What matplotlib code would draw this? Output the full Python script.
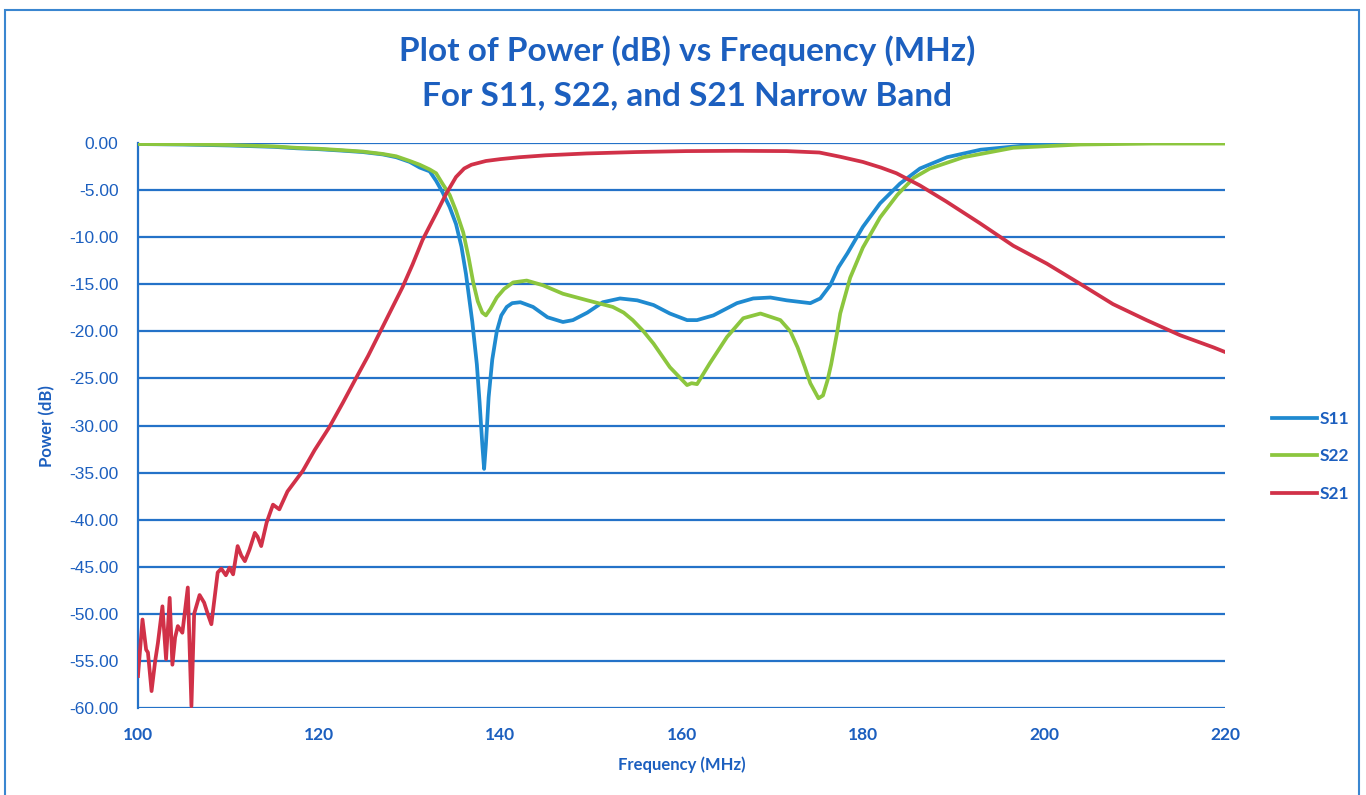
import matplotlib
matplotlib.use("Agg")
import matplotlib.pyplot as plt
from matplotlib.patches import Rectangle

# S11 readings (MHz, dB)
s11_freq = [100, 105, 110, 115, 117.5, 120, 122.5, 124.8, 127, 128.5, 130, 131.1,
            132.2, 132.9, 133.6, 134.4, 135.1, 135.7, 136.2, 136.9, 137.4, 137.7,
            138.0, 138.2, 138.4, 138.7, 139.1, 139.6, 140.1, 140.7, 141.3, 142.2,
            143.6, 145.2, 146.9, 148.0, 149.6, 151.3, 153.2, 155.1, 156.9, 158.7,
            160.6, 161.7, 163.5, 166.1, 167.9, 169.8, 171.6, 174.2, 175.3, 176.4,
            177.3, 178.3, 180.0, 181.9, 184.1, 186.3, 189.3, 193.0, 198.5, 204.0,
            211.4, 220.0]
s11_db = [-0.1, -0.15, -0.25, -0.4, -0.55, -0.65, -0.8, -0.95, -1.2, -1.5, -2.0, -2.6,
          -3.0, -4.0, -5.2, -6.8, -8.6, -11.0, -13.9, -19.0, -23.5, -27.5,
          -32.0, -34.6, -32.0, -27.0, -23.0, -20.0, -18.3, -17.4, -17.0, -16.9,
          -17.4, -18.5, -19.0, -18.8, -18.0, -16.9, -16.5, -16.7, -17.2, -18.1,
          -18.8, -18.8, -18.3, -17.0, -16.5, -16.4, -16.7, -17.0, -16.5, -15.1,
          -13.2, -11.7, -8.9, -6.4, -4.3, -2.7, -1.5, -0.7, -0.2, 0.05,
          0.15, 0.1]

# S22 readings
s22_freq = [100, 105, 110, 115, 117.5, 120, 122.5, 124.8, 127, 128.5, 130, 131.1,
            132.2, 132.9, 133.6, 134.4, 135.1, 135.9, 136.5, 137.0, 137.5, 138.0,
            138.4, 138.9, 139.6, 140.4, 141.4, 142.9, 144.7, 146.9, 149.6, 152.4,
            153.6, 154.6, 155.8, 156.9, 158.7, 160.6, 161.1, 161.7, 163.1, 165.0,
            166.8, 168.7, 170.9, 172.0, 172.8, 173.6, 174.2, 175.1, 175.6, 176.1,
            176.5, 177.2, 177.5, 178.6, 180.0, 181.9, 183.8, 185.6, 187.4, 191.1,
            196.6, 204.0, 212.0, 220.0]
s22_db = [-0.1, -0.12, -0.2, -0.35, -0.5, -0.6, -0.75, -0.9, -1.15, -1.4, -1.9, -2.3,
          -2.8, -3.2, -4.3, -5.5, -7.2, -9.5, -12.2, -14.8, -16.8, -18.0,
          -18.3, -17.6, -16.4, -15.5, -14.8, -14.6, -15.1, -16.0, -16.7, -17.4,
          -18.0, -18.8, -20.0, -21.3, -23.8, -25.7, -25.5, -25.6, -23.4, -20.6,
          -18.6, -18.1, -18.8, -20.0, -21.7, -23.8, -25.5, -27.1, -26.8, -25.2,
          -23.5, -19.9, -18.1, -14.3, -11.1, -7.9, -5.5, -3.7, -2.7, -1.5,
          -0.5, -0.15, -0.05, -0.05]

# S21 readings (noisy floor at the low end)
s21_freq = [100.0, 100.5, 100.9, 101.1, 101.5, 101.9, 102.2, 102.7, 103.1, 103.5,
            103.8, 104.1, 104.4, 104.9, 105.5, 105.9, 106.2, 106.8, 107.3, 107.7,
            108.1, 108.8, 109.2, 109.7, 110.1, 110.5, 111.0, 111.4, 111.8, 112.3,
            112.9, 113.2, 113.6, 114.2, 114.9, 115.6, 116.5, 118.2, 119.5, 121.1,
            122.6, 124.1, 125.4, 126.7, 128.0, 129.2, 130.3, 131.4, 132.2, 132.9,
            134.0, 135.1, 136.0, 136.8, 138.4, 140.0, 142.1, 145.0, 149.5, 155.0,
            160.5, 166.0, 171.6, 175.2, 177.5, 180.0, 182.0, 183.7, 186.3, 189.2,
            192.9, 196.6, 200.3, 203.9, 207.6, 211.3, 215.0, 218.7, 220.0]
s21_db = [-56.6, -50.6, -53.8, -54.1, -58.2, -55.0, -53.1, -49.2, -54.8, -48.3,
          -55.4, -52.5, -51.3, -52.0, -47.2, -59.8, -50.0, -48.0, -48.8, -50.0,
          -51.1, -45.6, -45.2, -45.9, -45.1, -45.8, -42.8, -43.8, -44.4, -43.2,
          -41.4, -41.8, -42.8, -40.3, -38.4, -38.9, -37.0, -34.8, -32.6, -30.2,
          -27.6, -24.9, -22.6, -20.1, -17.6, -15.3, -12.9, -10.3, -8.8, -7.5,
          -5.4, -3.6, -2.7, -2.3, -1.9, -1.7, -1.5, -1.3, -1.1, -0.95,
          -0.85, -0.82, -0.85, -1.0, -1.45, -2.0, -2.6, -3.2, -4.5, -6.2,
          -8.5, -10.9, -12.8, -14.9, -17.1, -18.8, -20.4, -21.7, -22.2]

x_ticks = [100, 120, 140, 160, 180, 200, 220]
y_ticks = [0, -5, -10, -15, -20, -25, -30, -35, -40, -45, -50, -55, -60]

text_blue = "#1c5fbf"
grid_blue = "#2472c8"

fig = plt.figure(figsize=(13.66, 7.95), dpi=100)
ax = fig.add_axes([0.101, 0.1094, 0.796, 0.7106])

# frame around the whole chart
fig.patches.append(Rectangle((0.004, -0.01), 0.991, 0.997, transform=fig.transFigure,
                             fill=False, edgecolor="#3a86d0", lw=1.5))

ax.plot(s11_freq, s11_db, color="#1f8ad0", lw=2.7, label="S11", zorder=3)
ax.plot(s22_freq, s22_db, color="#8cc63e", lw=2.7, label="S22", zorder=4)
ax.plot(s21_freq, s21_db, color="#d13148", lw=2.7, label="S21", zorder=5)

ax.set_xlim(100, 220)
ax.set_ylim(-60, 0)
ax.set_xticks(x_ticks)
ax.set_yticks(y_ticks)
ax.set_yticklabels(["%.2f" % v for v in y_ticks])
ax.tick_params(length=0, pad=14, colors=text_blue)
for lab in ax.get_yticklabels():
    lab.set_fontfamily("Liberation Sans")
    lab.set_fontsize(12.5)
for lab in ax.get_xticklabels():
    lab.set_fontfamily("Lato")
    lab.set_fontsize(12.5)
    lab.set_fontweight("bold")

ax.grid(axis="y", color=grid_blue, lw=1.6)
ax.set_axisbelow(True)
for side in ["top", "right", "bottom"]:
    ax.spines[side].set_visible(False)
ax.spines["left"].set_color(grid_blue)
ax.spines["left"].set_linewidth(1.6)

ax.set_xlabel("Frequency (MHz)", family="Lato", fontsize=12, fontweight="bold",
              color=text_blue, labelpad=9)
ax.set_ylabel("Power (dB)", family="Lato", fontsize=12, fontweight="bold",
              color=text_blue, labelpad=10)

fig.text(0.503, 0.936, "Plot of Power (dB) vs Frequency (MHz)", ha="center", va="center",
         family="Lato", fontsize=24, fontweight="bold", color=text_blue)
fig.text(0.503, 0.879, "For S11, S22, and S21 Narrow Band", ha="center", va="center",
         family="Lato", fontsize=24, fontweight="bold", color=text_blue)

leg = fig.legend(loc="center left", bbox_to_anchor=(0.92, 0.426), frameon=False,
                 handlelength=2.6, handletextpad=0.15, labelspacing=1.25,
                 prop={"family": "Lato", "size": 12.5, "weight": "bold"})
for t in leg.get_texts():
    t.set_color(text_blue)

fig.savefig("out.png", dpi=100)
